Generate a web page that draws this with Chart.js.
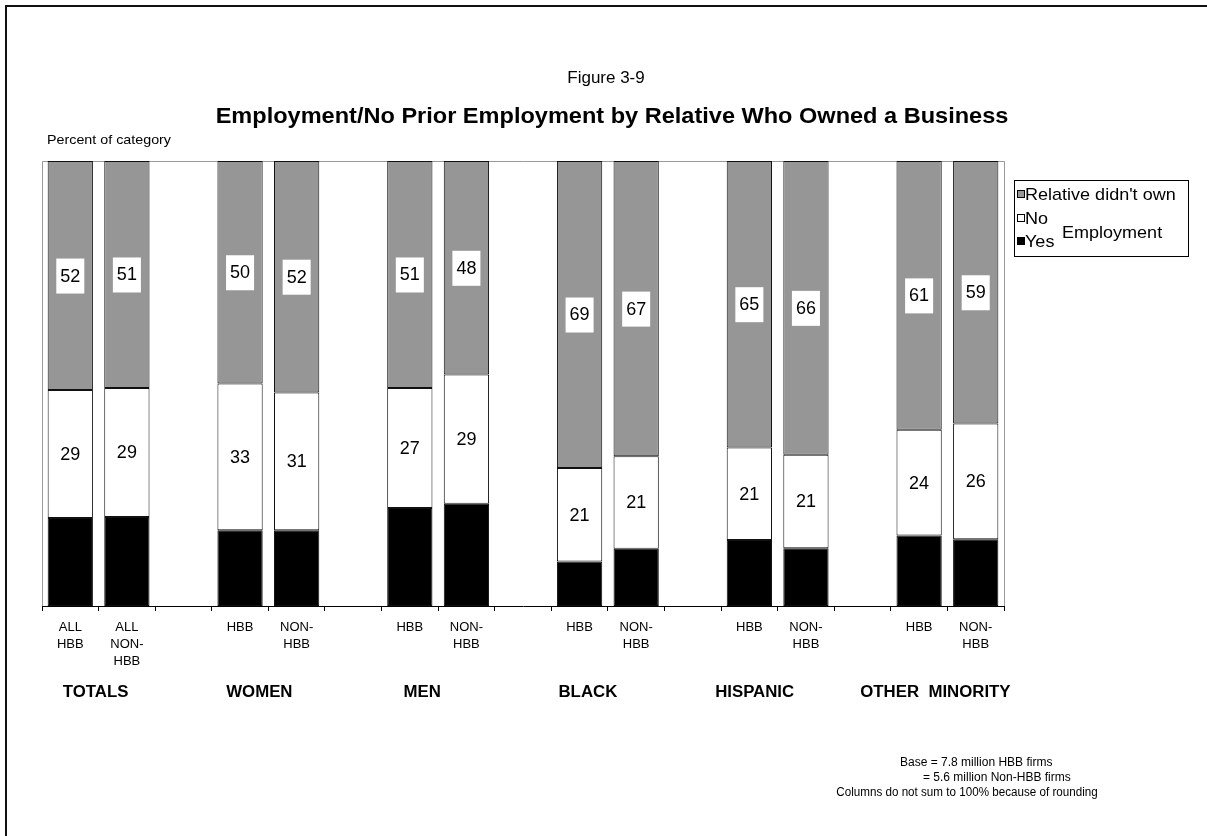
<!DOCTYPE html>
<html>
<head>
<meta charset="utf-8">
<title>Figure 3-9</title>
<script src="https://cdn.jsdelivr.net/npm/chart.js@4.4.1/dist/chart.umd.min.js"></script>
<style>
  body { margin: 0; background: #fff; }
  canvas { display: block; }
</style>
</head>
<body>
<canvas id="employmentChart" width="1207" height="836"></canvas>
<script>
// categories: two bars per group, an empty slot between groups
const barLabels = [
  ['ALL', 'HBB'], ['ALL', 'NON-', 'HBB'], '',
  'HBB', ['NON-', 'HBB'], '',
  'HBB', ['NON-', 'HBB'], '',
  'HBB', ['NON-', 'HBB'], '',
  'HBB', ['NON-', 'HBB'], '',
  'HBB', ['NON-', 'HBB']
];
const groupNames = ['TOTALS', 'WOMEN', 'MEN', 'BLACK', 'HISPANIC', 'OTHER  MINORITY'];
const groupBars = [[0, 1], [3, 4], [6, 7], [9, 10], [12, 13], [15, 16]];

// percent of category
const relativeDidntOwn = [52, 51, null, 50, 52, null, 51, 48, null, 69, 67, null, 65, 66, null, 61, 59];
const employmentNo     = [29, 29, null, 33, 31, null, 27, 29, null, 21, 21, null, 21, 21, null, 24, 26];
const employmentYes    = [20, 20, null, 17, 17, null, 22, 23, null, 10, 13, null, 15, 13, null, 16, 15];

const notes = [
  'Base = 7.8 million HBB firms',
  '= 5.6 million Non-HBB firms',
  'Columns do not sum to 100% because of rounding'
];

const FONT = 'Arial, "Liberation Sans", sans-serif';
const GREY = '#969696';

// columns are drawn as shares of 100 (the rounded figures may add to 101)
function asShare(values) {
  return values.map((v, i) => {
    if (v === null) return null;
    const total = relativeDidntOwn[i] + employmentNo[i] + employmentYes[i];
    return v / total * 100;
  });
}

const rawByDataset = [employmentYes, employmentNo, relativeDidntOwn];

// text drawn slightly widened
function wideText(ctx, txt, x, y, sx) {
  ctx.save();
  ctx.translate(x, y);
  ctx.scale(sx, 1);
  ctx.fillText(txt, 0, 0);
  ctx.restore();
}

const decorations = {
  id: 'decorations',
  beforeDatasetsDraw(chart) {
    const { ctx, chartArea: a } = chart;
    ctx.save();
    // plot frame
    ctx.strokeStyle = '#9a9a9a';
    ctx.lineWidth = 1;
    ctx.beginPath();
    ctx.moveTo(Math.round(a.left) + 0.5, a.bottom);
    ctx.lineTo(Math.round(a.left) + 0.5, Math.round(a.top) + 0.5);
    ctx.lineTo(Math.round(a.right) + 0.5, Math.round(a.top) + 0.5);
    ctx.lineTo(Math.round(a.right) + 0.5, a.bottom);
    ctx.stroke();
    ctx.restore();
  },
  afterDatasetsDraw(chart) {
    const { ctx } = chart;
    ctx.save();
    ctx.font = '18px ' + FONT;
    ctx.textAlign = 'center';
    ctx.textBaseline = 'middle';
    [1, 2].forEach(d => {
      const meta = chart.getDatasetMeta(d);
      meta.data.forEach((bar, i) => {
        const v = rawByDataset[d][i];
        if (v === null) return;
        const y = (bar.y + bar.base) / 2;
        const txt = String(v);
        if (d === 2) {
          const w = ctx.measureText(txt).width + 8;
          ctx.fillStyle = '#fff';
          ctx.fillRect(bar.x - w / 2, y - 17, w, 35);
        }
        ctx.fillStyle = '#000';
        ctx.fillText(txt, bar.x, y + 1);
      });
    });
    ctx.restore();
  },
  afterDraw(chart) {
    const { ctx, scales } = chart;
    const x = scales.x;
    ctx.save();

    // outer frame
    ctx.strokeStyle = '#111';
    ctx.lineWidth = 2;
    ctx.beginPath();
    ctx.moveTo(6, chart.height);
    ctx.lineTo(6, 6);
    ctx.lineTo(chart.width, 6);
    ctx.stroke();

    ctx.fillStyle = '#000';
    ctx.textBaseline = 'middle';
    ctx.textAlign = 'center';
    ctx.font = '17px ' + FONT;
    ctx.fillText('Figure 3-9', 606, 78);
    ctx.font = 'bold 22px ' + FONT;
    wideText(ctx, 'Employment/No Prior Employment by Relative Who Owned a Business', 612, 117, 1.07);

    ctx.textAlign = 'left';
    ctx.font = '13px ' + FONT;
    wideText(ctx, 'Percent of category', 47, 140, 1.1);

    // group names under the bar labels
    const shift = [-3, -9, -16, -20, -23, -12];
    ctx.textAlign = 'center';
    ctx.font = 'bold 16px ' + FONT;
    groupBars.forEach((pair, g) => {
      const cx = (x.getPixelForValue(pair[0]) + x.getPixelForValue(pair[1])) / 2 + shift[g];
      wideText(ctx, groupNames[g], cx, 693, 1.05);
    });

    // legend
    ctx.strokeStyle = '#000';
    ctx.lineWidth = 1;
    ctx.strokeRect(1014.5, 180.5, 174, 76);
    ctx.font = '17px ' + FONT;
    ctx.textAlign = 'left';
    const rows = [2, 1, 0];
    const rowY = [194, 218, 241];
    rows.forEach((d, r) => {
      const ds = chart.data.datasets[d];
      ctx.fillStyle = ds.backgroundColor;
      ctx.fillRect(1017.5, rowY[r] - 3.5, 7, 7);
      ctx.strokeRect(1017.5, rowY[r] - 3.5, 7, 7);
      ctx.fillStyle = '#000';
      wideText(ctx, ds.label, 1025, rowY[r] + 1, 1.06);
    });
    wideText(ctx, 'Employment', 1062, 233, 1.06);

    // base notes
    ctx.font = '12px ' + FONT;
    ctx.fillText(notes[0], 900, 763);
    ctx.fillText(notes[1], 923, 778);
    ctx.textAlign = 'center';
    wideText(ctx, notes[2], 967, 793, 0.97);

    ctx.restore();
  }
};

new Chart(document.getElementById('employmentChart'), {
  type: 'bar',
  data: {
    labels: barLabels,
    datasets: [
      { label: 'Yes', data: asShare(employmentYes), backgroundColor: '#000' },
      { label: 'No', data: asShare(employmentNo), backgroundColor: '#fff' },
      { label: "Relative didn't own", data: asShare(relativeDidntOwn), backgroundColor: GREY }
    ].map(ds => Object.assign(ds, {
      borderColor: '#111',
      borderWidth: 1,
      borderSkipped: false,
      barPercentage: 0.8,
      categoryPercentage: 1
    }))
  },
  options: {
    responsive: false,
    animation: false,
    layout: { padding: { left: 42, right: 203, top: 161, bottom: 140 } },
    plugins: {
      legend: { display: false },
      tooltip: { enabled: false },
      title: { display: false }
    },
    scales: {
      x: {
        stacked: true,
        grid: { display: true, drawOnChartArea: false, drawTicks: true, tickLength: 5, color: '#000', offset: true },
        border: { display: true, color: '#000', width: 1 },
        ticks: {
          color: '#000',
          font: { family: FONT, size: 13, lineHeight: 1.3 },
          padding: 8,
          maxRotation: 0,
          autoSkip: false
        },
        afterFit(scale) { scale.height = 90; }
      },
      y: {
        stacked: true,
        display: false,
        min: 0,
        max: 100
      }
    }
  },
  plugins: [decorations]
});
</script>
</body>
</html>
